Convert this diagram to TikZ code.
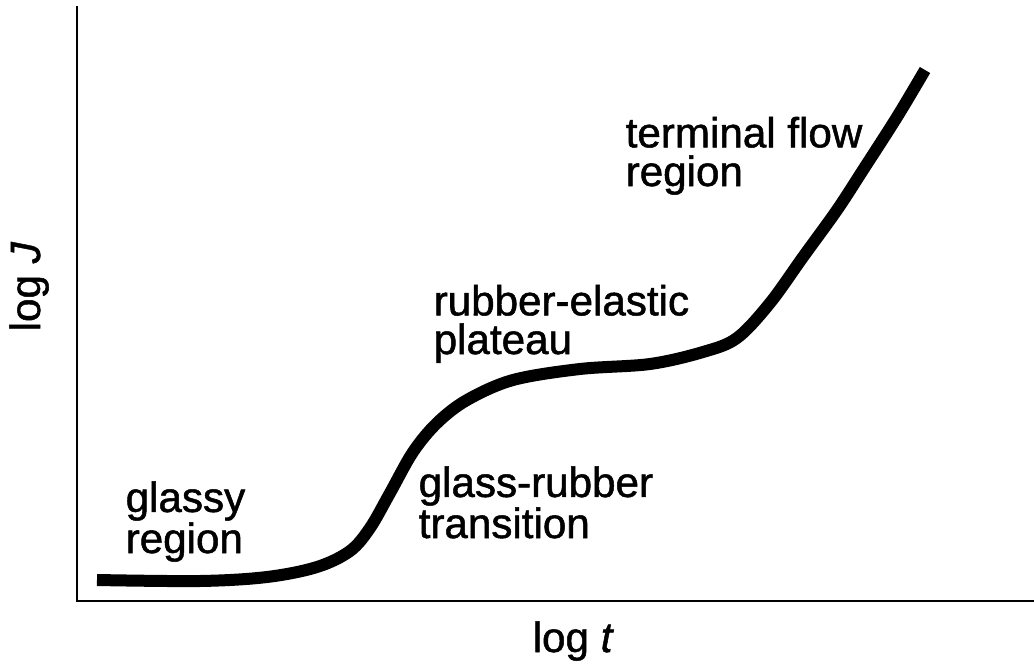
\documentclass[tikz,border=0pt]{standalone}
\usepackage{fontspec}
\setmainfont{Liberation Sans}[FakeBold=1.2]

\begin{document}
\begin{tikzpicture}[x=0.02cm,y=-0.02cm,thick,
    axis line/.style={line width=1.4pt},
    curve line/.style={line width=0.24cm},
    region label/.style={anchor=base west,inner sep=0pt,align=left,font=\fontsize{24}{22}\selectfont},
    axis label/.style={anchor=base west,inner sep=0pt,font=\fontsize{24}{22}\selectfont}]

            \useasboundingbox (0,0) rectangle (1034,666);

            % axes
            \coordinate (top) at (77,6);
            \coordinate (origin) at (77,601);
            \coordinate (right) at (1034,601);
            \draw[axis line] (top) to (origin) to (right);

            \node[axis label] (logt) at (532,652) {log \textit{t}};
            \node[axis label, rotate=90] (logJ) at (40,332) {log \textit{J}};

            % creep compliance curve
            \draw[curve line] plot[smooth, tension=0.55] coordinates {
                (97,580) (200,581) (267,577) (317,567) (350,551) (370,528)
                (390,493) (413,452) (437,423) (467,400) (513,380) (580,369)
                (650,364) (703,352) (737,338) (770,303) (803,257) (837,210)
                (863,170) (897,117) (925,70)};

            % regions (anchored at the baseline of the last line)
            \node[region label] (glassy) at (125,553) {glassy\\region};
            \node[region label] (transition) at (418,538) {glass-rubber\\transition};
            \node[region label] (plateau) at (433,354) {rubber-elastic\\plateau};
            \node[region label] (flow) at (625,186) {terminal flow\\region};

        \end{tikzpicture}
\end{document}
